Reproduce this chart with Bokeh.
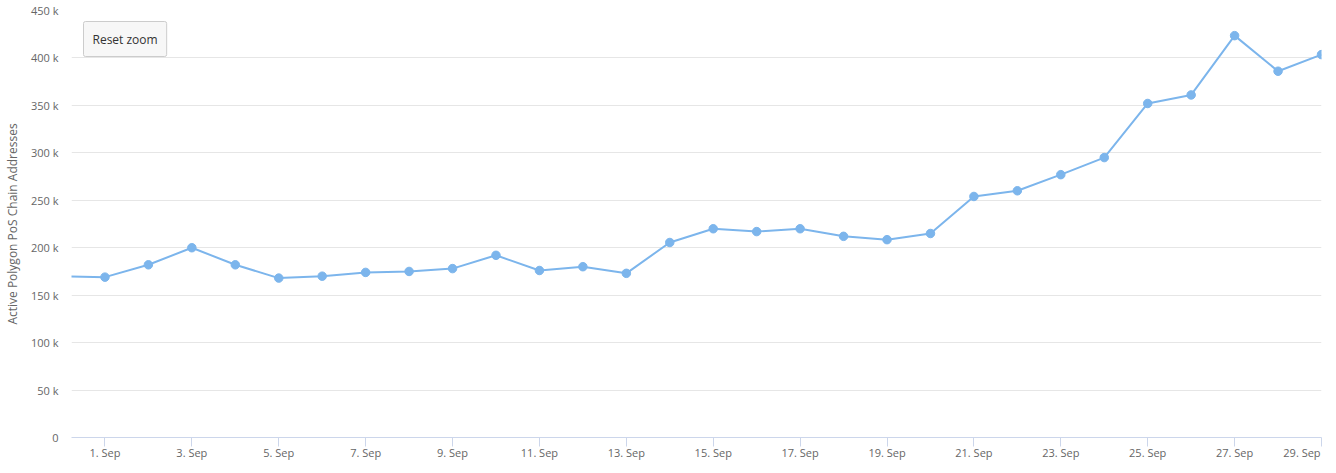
from datetime import datetime, timedelta
from bokeh.plotting import figure
from bokeh.models import (FixedTicker, ColumnDataSource, Label, CustomJSTickFormatter)
from bokeh.embed import file_html
from bokeh.resources import INLINE

# ---- data ----
dates = ["2021-08-31", "2021-09-01", "2021-09-02", "2021-09-03", "2021-09-04", "2021-09-05",
         "2021-09-06", "2021-09-07", "2021-09-08", "2021-09-09", "2021-09-10", "2021-09-11",
         "2021-09-12", "2021-09-13", "2021-09-14", "2021-09-15", "2021-09-16", "2021-09-17",
         "2021-09-18", "2021-09-19", "2021-09-20", "2021-09-21", "2021-09-22", "2021-09-23",
         "2021-09-24", "2021-09-25", "2021-09-26", "2021-09-27", "2021-09-28", "2021-09-29"]
active_addresses = [170000, 169000, 182000, 200000, 182000, 168000,
                    170000, 174000, 175000, 178000, 192000, 176000,
                    180000, 173000, 205500, 220000, 217000, 220000,
                    212000, 208500, 215000, 254000, 260000, 277000,
                    295000, 352000, 361000, 423500, 386000, 403500]
y_ticks = [0, 50000, 100000, 150000, 200000, 250000, 300000, 350000, 400000, 450000]
y_tick_labels = ["0", "50 k", "100 k", "150 k", "200 k", "250 k", "300 k", "350 k", "400 k", "450 k"]
x_tick_days = ["2021-09-01", "2021-09-03", "2021-09-05", "2021-09-07", "2021-09-09", "2021-09-11",
               "2021-09-13", "2021-09-15", "2021-09-17", "2021-09-19", "2021-09-21", "2021-09-23",
               "2021-09-25", "2021-09-27", "2021-09-29"]

x = [datetime.strptime(d, "%Y-%m-%d") for d in dates]
src = ColumnDataSource(dict(x=x, y=active_addresses))

DAY_MS = 86400000.0

def ms(d):
    return (d - datetime(1970, 1, 1)).total_seconds() * 1000.0

x_start = datetime(2021, 9, 1) - timedelta(days=0.77)
x_end = datetime(2021, 9, 29)

FONT = "Open Sans"

p = figure(width=1336, height=473, x_axis_type="datetime",
           x_range=(x_start, x_end), y_range=(0, 450000),
           output_backend="svg", toolbar_location=None,
           min_border_left=70, min_border_right=15, min_border_top=10, min_border_bottom=36)
p.outline_line_color = None
p.background_fill_color = "white"

p.line("x", "y", source=src, line_color="#7cb5ec", line_width=2)
p.scatter("x", "y", source=src, size=8.5, fill_color="#7cb5ec", line_color="#7cb5ec")

# x axis: tick marks as minor ticks at every tick day; labels as major ticks,
# with the last label shifted left so it ends at the frame edge (right aligned)
tick_ms = [ms(datetime.strptime(d, "%Y-%m-%d")) for d in x_tick_days]
LAST_LABEL_SHIFT_DAYS = 0.45
label_ms = tick_ms[:-1] + [tick_ms[-1] - LAST_LABEL_SHIFT_DAYS * DAY_MS]
p.xaxis.ticker = FixedTicker(ticks=label_ms, minor_ticks=tick_ms)
p.xaxis.formatter = CustomJSTickFormatter(code="""
    const m = ["Jan","Feb","Mar","Apr","May","Jun","Jul","Aug","Sep","Oct","Nov","Dec"];
    const d = new Date(Math.round(tick / 86400000) * 86400000);
    return d.getUTCDate() + ". " + m[d.getUTCMonth()];
""")
p.xaxis.axis_line_color = "#ccd6eb"
p.xaxis.major_tick_line_color = None
p.xaxis.major_tick_out = 0
p.xaxis.major_tick_in = 0
p.xaxis.minor_tick_line_color = "#ccd6eb"
p.xaxis.minor_tick_out = 9
p.xaxis.minor_tick_in = 0
p.xaxis.major_label_text_color = "#666666"
p.xaxis.major_label_text_font = FONT
p.xaxis.major_label_text_font_size = "11px"
p.xaxis.major_label_standoff = -2
p.xgrid.grid_line_color = None

# y axis
p.yaxis.ticker = FixedTicker(ticks=y_ticks)
p.yaxis.major_label_overrides = {t: l for t, l in zip(y_ticks, y_tick_labels)}
p.yaxis.axis_line_color = None
p.yaxis.major_tick_line_color = None
p.yaxis.major_tick_out = 0
p.yaxis.major_tick_in = 0
p.yaxis.minor_tick_line_color = None
p.yaxis.minor_tick_out = 0
p.yaxis.major_label_text_color = "#666666"
p.yaxis.major_label_text_font = FONT
p.yaxis.major_label_text_font_size = "11px"
p.yaxis.major_label_standoff = 13
p.yaxis.axis_label = "Active Polygon PoS Chain Addresses"
p.yaxis.axis_label_text_font = FONT
p.yaxis.axis_label_text_font_size = "12px"
p.yaxis.axis_label_text_font_style = "normal"
p.yaxis.axis_label_text_color = "#666666"
p.yaxis.axis_label_standoff = 7
p.ygrid.grid_line_color = "#e6e6e6"
p.ygrid.grid_line_width = 1

# reset zoom button
btn = Label(x=ms(x_start + timedelta(days=0.276)), y=438400, x_units="data", y_units="data",
            text="Reset zoom",
            text_align="left", text_baseline="top", text_color="#333333",
            text_font=FONT, text_font_size="12px",
            background_fill_color="#f7f7f7", border_line_color="#cccccc",
            padding=9, border_radius=2)
p.add_layout(btn)

open("out.html", "w").write(file_html(p, INLINE))
